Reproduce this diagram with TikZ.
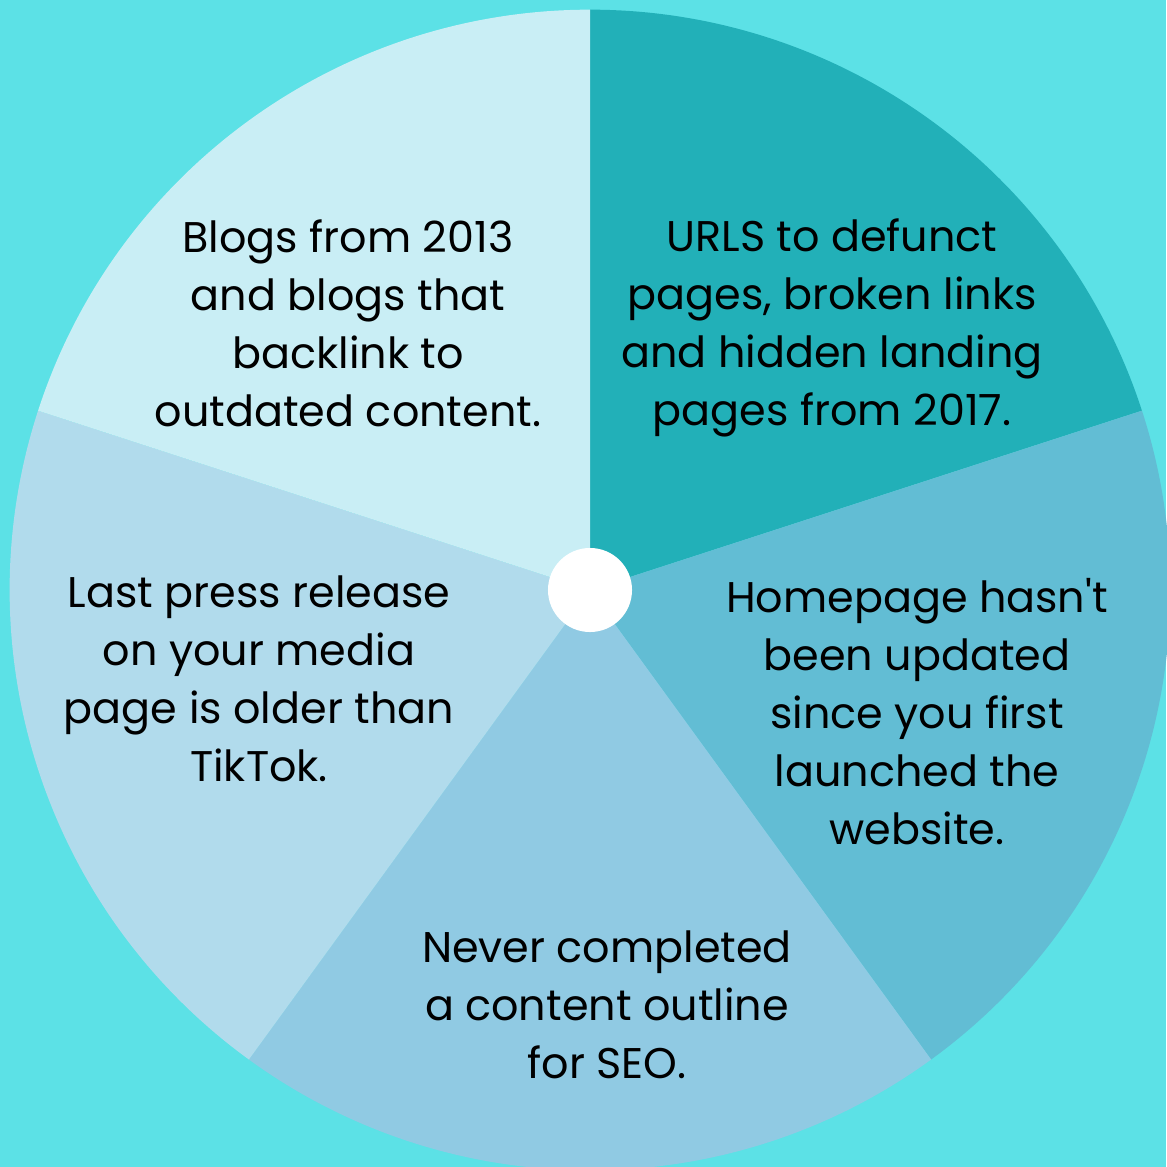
\documentclass[tikz,border=0pt]{standalone}
\usepackage{fontspec}
\newfontfamily\pop{Poppins}
\definecolor{bg}{HTML}{5CE1E6}
\definecolor{sA}{HTML}{22B0B8}
\definecolor{sB}{HTML}{62BDD4}
\definecolor{sC}{HTML}{90CAE3}
\definecolor{sD}{HTML}{B1DBEC}
\definecolor{sE}{HTML}{C9EEF5}
\begin{document}
\begin{tikzpicture}[x=0.01cm,y=-0.01cm,
  lbl/.style={align=center,font=\pop\fontsize{12.2}{16.5}\selectfont,text=black,inner sep=0pt}]
\fill[bg] (0,0) rectangle (1166,1167);
\useasboundingbox (0,0) rectangle (1166,1167);
\coordinate (c) at (590,590);
\def\R{5.8cm}
\fill[sA] (c) -- ++(90:\R) arc[start angle=90,end angle=18,radius=\R] -- cycle;
\fill[sB] (c) -- ++(18:\R) arc[start angle=18,end angle=-54,radius=\R] -- cycle;
\fill[sC] (c) -- ++(-54:\R) arc[start angle=-54,end angle=-126,radius=\R] -- cycle;
\fill[sD] (c) -- ++(-126:\R) arc[start angle=-126,end angle=-198,radius=\R] -- cycle;
\fill[sE] (c) -- ++(162:\R) arc[start angle=162,end angle=90,radius=\R] -- cycle;
\fill[white] (c) circle[radius=0.42cm];
\node[lbl] (t1) at (832,328) {URLS to defunct\\pages, broken links\\and hidden landing\\pages from 2017.};
\node[lbl] (t2) at (917,712) {Homepage hasn't\\been updated\\since you first\\launched the\\website.};
\node[lbl] (t3) at (607,1005) {Never completed\\a content outline\\for SEO.};
\node[lbl] (t4) at (259,679) {Last press release\\on your media\\page is older than\\TikTok.};
\node[lbl] (t5) at (348,323) {Blogs from 2013\\and blogs that\\backlink to\\outdated content.};
\end{tikzpicture}
\end{document}
